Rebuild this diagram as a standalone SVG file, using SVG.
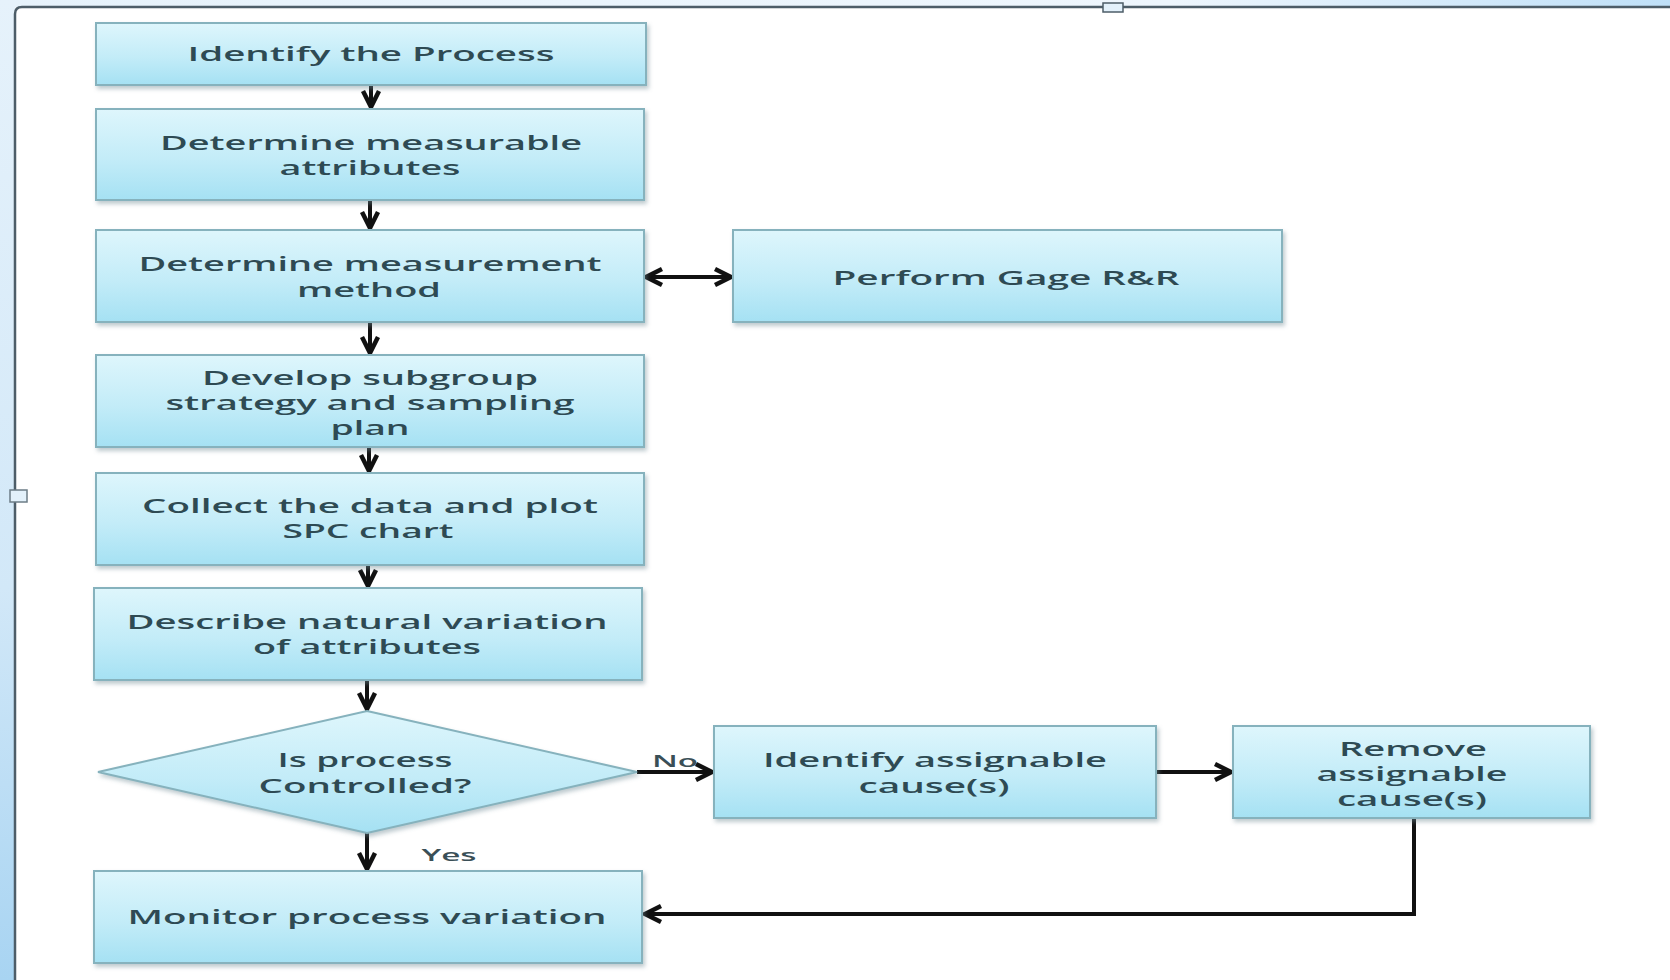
<svg xmlns="http://www.w3.org/2000/svg" width="1670" height="980" viewBox="0 0 1670 980">
  <defs>
    <linearGradient id="boxFill" x1="0" y1="0" x2="0" y2="1">
      <stop offset="0" stop-color="#def6fc"/>
      <stop offset="0.55" stop-color="#c3ecf8"/>
      <stop offset="1" stop-color="#a5e1f3"/>
    </linearGradient>
    <linearGradient id="sideFill" x1="0" y1="0" x2="0" y2="1">
      <stop offset="0" stop-color="#e6f2fb"/>
      <stop offset="0.6" stop-color="#d2e8f8"/>
      <stop offset="1" stop-color="#a8d4f2"/>
    </linearGradient>
    <linearGradient id="topFill" x1="0" y1="0" x2="1" y2="0">
      <stop offset="0" stop-color="#e6f2fb"/>
      <stop offset="0.7" stop-color="#eef6fd"/>
      <stop offset="1" stop-color="#bfe0f8"/>
    </linearGradient>
    <filter id="shadow" x="-5%" y="-10%" width="115%" height="130%">
      <feDropShadow dx="2" dy="3" stdDeviation="2" flood-color="#6f8a94" flood-opacity="0.45"/>
    </filter>
    <marker id="head" viewBox="0 0 22 22" refX="19" refY="11" markerWidth="22" markerHeight="22" markerUnits="userSpaceOnUse" orient="auto-start-reverse">
      <path d="M3,3 L19,11 L3,19" fill="none" stroke="#111" stroke-width="4.5" stroke-linejoin="miter"/>
    </marker>
    <style>
      .box { fill: url(#boxFill); stroke: #86b2bd; stroke-width: 2; filter: url(#shadow); }
      .lbl { font-family: "Open Sans", "Liberation Sans", sans-serif; font-weight: 600; font-size: 20px; fill: #2e4a53; text-anchor: middle; dominant-baseline: central; }
      .tag { font-family: "Open Sans", "Liberation Sans", sans-serif; font-weight: 600; font-size: 16px; fill: #3a4f57; text-anchor: middle; dominant-baseline: central; }
      .wire { fill: none; stroke: #111; stroke-width: 4; }
    </style>
  </defs>

  <!-- page background and window frame -->
  <rect x="0" y="0" width="1670" height="980" fill="#ffffff"/>
  <rect x="0" y="0" width="1670" height="7" fill="url(#topFill)"/>
  <rect x="0" y="0" width="15" height="980" fill="url(#sideFill)"/>
  <path d="M15,980 L15,14 Q15,7 22,7 L1670,7" fill="none" stroke="#4d5d68" stroke-width="2.5"/>
  <rect x="1103" y="3" width="20" height="9" fill="#e3f1fb" stroke="#4d5d68" stroke-width="1.5"/>
  <rect x="10" y="490" width="17" height="12" fill="#e3f1fb" stroke="#6c7c86" stroke-width="1.5"/>

  <!-- connectors -->
  <g id="connectors">
    <line class="wire" x1="371" y1="85" x2="371" y2="107" marker-end="url(#head)"/>
    <line class="wire" x1="370" y1="200" x2="370" y2="228" marker-end="url(#head)"/>
    <line class="wire" x1="646" y1="277" x2="731" y2="277" marker-start="url(#head)" marker-end="url(#head)"/>
    <line class="wire" x1="370" y1="322" x2="370" y2="353" marker-end="url(#head)"/>
    <line class="wire" x1="369" y1="447" x2="369" y2="471" marker-end="url(#head)"/>
    <line class="wire" x1="368" y1="565" x2="368" y2="586" marker-end="url(#head)"/>
    <line class="wire" x1="367" y1="680" x2="367" y2="709" marker-end="url(#head)"/>
    <line class="wire" x1="637" y1="772" x2="712" y2="772" marker-end="url(#head)"/>
    <line class="wire" x1="1156" y1="772" x2="1231" y2="772" marker-end="url(#head)"/>
    <line class="wire" x1="367" y1="833" x2="367" y2="869" marker-end="url(#head)"/>
    <polyline class="wire" points="1414,818 1414,914 645,914" marker-end="url(#head)"/>
    <text class="tag" x="675" y="761" textLength="46" lengthAdjust="spacingAndGlyphs">No</text>
    <text class="tag" x="449" y="855" textLength="55" lengthAdjust="spacingAndGlyphs">Yes</text>
  </g>

  <g id="identify-process">
    <rect class="box" x="96" y="23" width="550" height="62"/>
    <text class="lbl" x="371" y="53" textLength="367" lengthAdjust="spacingAndGlyphs">Identify the Process</text>
  </g>

  <g id="measurable-attributes">
    <rect class="box" x="96" y="109" width="548" height="91"/>
    <text class="lbl" x="371" y="142" textLength="422" lengthAdjust="spacingAndGlyphs">Determine measurable</text>
    <text class="lbl" x="370" y="167" textLength="181" lengthAdjust="spacingAndGlyphs">attributes</text>
  </g>

  <g id="measurement-method">
    <rect class="box" x="96" y="230" width="548" height="92"/>
    <text class="lbl" x="370" y="263" textLength="463" lengthAdjust="spacingAndGlyphs">Determine measurement</text>
    <text class="lbl" x="369" y="289" textLength="144" lengthAdjust="spacingAndGlyphs">method</text>
  </g>

  <g id="gage-rr">
    <rect class="box" x="733" y="230" width="549" height="92"/>
    <text class="lbl" x="1006" y="277" textLength="347" lengthAdjust="spacingAndGlyphs">Perform Gage R&amp;R</text>
  </g>

  <g id="subgroup-strategy">
    <rect class="box" x="96" y="355" width="548" height="92"/>
    <text class="lbl" x="370" y="377" textLength="336" lengthAdjust="spacingAndGlyphs">Develop subgroup</text>
    <text class="lbl" x="370" y="402" textLength="409" lengthAdjust="spacingAndGlyphs">strategy and sampling</text>
    <text class="lbl" x="370" y="427" textLength="79" lengthAdjust="spacingAndGlyphs">plan</text>
  </g>

  <g id="collect-data">
    <rect class="box" x="96" y="473" width="548" height="92"/>
    <text class="lbl" x="370" y="505" textLength="456" lengthAdjust="spacingAndGlyphs">Collect the data and plot</text>
    <text class="lbl" x="368" y="530" textLength="171" lengthAdjust="spacingAndGlyphs">SPC chart</text>
  </g>

  <g id="natural-variation">
    <rect class="box" x="94" y="588" width="548" height="92"/>
    <text class="lbl" x="367" y="621" textLength="481" lengthAdjust="spacingAndGlyphs">Describe natural variation</text>
    <text class="lbl" x="367" y="646" textLength="228" lengthAdjust="spacingAndGlyphs">of attributes</text>
  </g>

  <g id="process-controlled">
    <polygon class="box" points="367,711 637,772 367,833 98,772"/>
    <text class="lbl" x="365" y="759" textLength="175" lengthAdjust="spacingAndGlyphs">Is process</text>
    <text class="lbl" x="365" y="785" textLength="213" lengthAdjust="spacingAndGlyphs">Controlled?</text>
  </g>

  <g id="identify-cause">
    <rect class="box" x="714" y="726" width="442" height="92"/>
    <text class="lbl" x="935" y="759" textLength="344" lengthAdjust="spacingAndGlyphs">Identify assignable</text>
    <text class="lbl" x="934" y="785" textLength="151" lengthAdjust="spacingAndGlyphs">cause(s)</text>
  </g>

  <g id="remove-cause">
    <rect class="box" x="1233" y="726" width="357" height="92"/>
    <text class="lbl" x="1413" y="748" textLength="148" lengthAdjust="spacingAndGlyphs">Remove</text>
    <text class="lbl" x="1412" y="773" textLength="191" lengthAdjust="spacingAndGlyphs">assignable</text>
    <text class="lbl" x="1412" y="798" textLength="150" lengthAdjust="spacingAndGlyphs">cause(s)</text>
  </g>

  <g id="monitor-variation">
    <rect class="box" x="94" y="871" width="548" height="92"/>
    <text class="lbl" x="367" y="916" textLength="479" lengthAdjust="spacingAndGlyphs">Monitor process variation</text>
  </g>
</svg>
